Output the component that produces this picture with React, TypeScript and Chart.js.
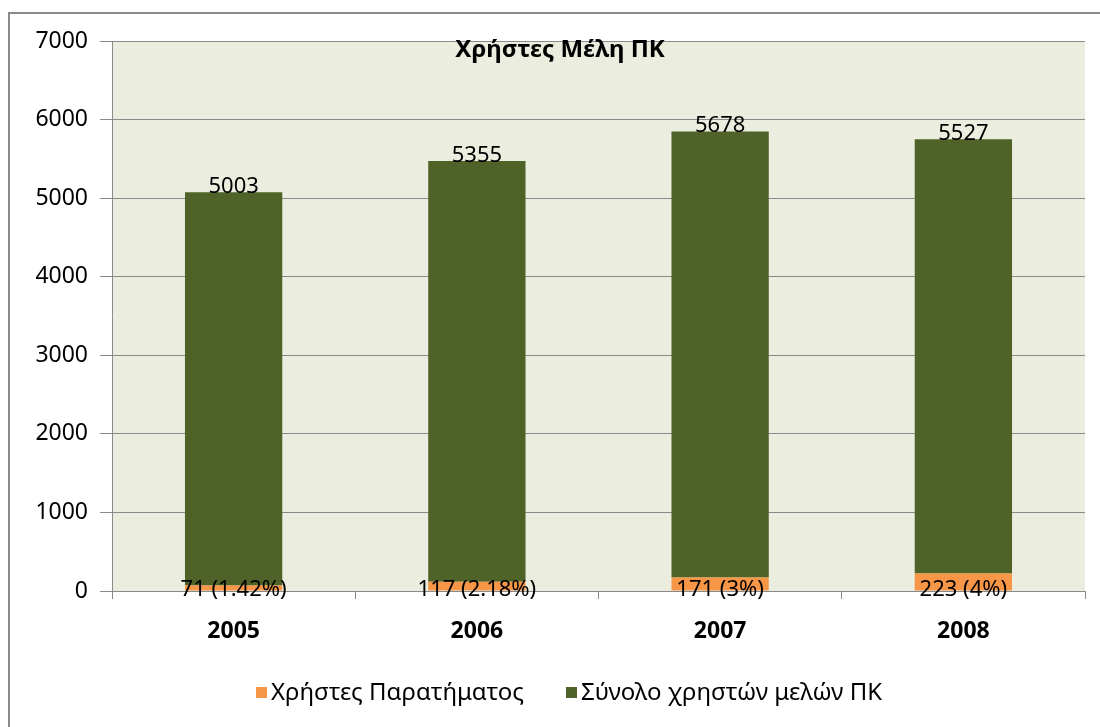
import React, { useEffect, useRef } from "react";
import { Chart, registerables } from "chart.js";

Chart.register(...registerables);

const years = ["2005", "2006", "2007", "2008"];
const paratimatos = [71, 117, 171, 223];
const paratimatosPct = ["1.42%", "2.18%", "3%", "4%"];
const synolo = [5003, 5355, 5678, 5527];
const seriesNames = ["Χρήστες Παρατήματος", "Σύνολο χρηστών μελών ΠΚ"];
const chartTitle = "Χρήστες Μέλη ΠΚ";
const colors = ["#F79646", "#4F6228"];

const FONT = "'Noto Sans', 'DejaVu Sans', sans-serif";

const decorPlugin = {
  id: "decor",
  beforeDraw(chart: any) {
    const { ctx, chartArea } = chart;
    ctx.save();
    ctx.fillStyle = "#ffffff";
    ctx.fillRect(0, 0, chart.width, chart.height);
    ctx.strokeStyle = "#8a8a8a";
    ctx.lineWidth = 2;
    ctx.strokeRect(9, 13, chart.width + 20, chart.height + 20);
    ctx.fillStyle = "#EBEEDF";
    ctx.fillRect(chartArea.left, chartArea.top, chartArea.right - chartArea.left, chartArea.bottom - chartArea.top);
    ctx.restore();
  },
  afterDraw(chart: any) {
    const { ctx } = chart;
    ctx.save();
    ctx.fillStyle = "#000";
    ctx.font = `bold 24px ${FONT}`;
    ctx.textAlign = "center";
    ctx.textBaseline = "middle";
    ctx.fillText(chartTitle, 560, 50);

    ctx.font = `22px ${FONT}`;
    ctx.textAlign = "center";
    ctx.textBaseline = "alphabetic";
    const m0 = chart.getDatasetMeta(0);
    const m1 = chart.getDatasetMeta(1);
    m0.data.forEach((bar: any, i: number) => {
      ctx.fillText(`${paratimatos[i]} (${paratimatosPct[i]})`, bar.x, chart.chartArea.bottom + 5);
    });
    m1.data.forEach((bar: any, i: number) => {
      ctx.fillText(`${synolo[i]}`, bar.x, bar.y + 1);
    });

    ctx.font = `24px ${FONT}`;
    ctx.textAlign = "left";
    ctx.textBaseline = "middle";
    const ly = 693;
    const items = [
      { x: 256, label: seriesNames[0], color: colors[0] },
      { x: 566, label: seriesNames[1], color: colors[1] },
    ];
    items.forEach((it) => {
      ctx.fillStyle = it.color;
      ctx.fillRect(it.x, ly - 6, 11, 11);
      ctx.fillStyle = "#000";
      ctx.fillText(it.label, it.x + 15, ly);
    });
    ctx.restore();
  },
};

export default function App() {
  const ref = useRef<HTMLCanvasElement>(null);
  useEffect(() => {
    if (!ref.current) return;
    const chart = new Chart(ref.current, {
      type: "bar",
      data: {
        labels: years,
        datasets: [
          {
            label: seriesNames[0],
            data: paratimatos,
            backgroundColor: colors[0],
            categoryPercentage: 1,
            barPercentage: 0.4,
          },
          {
            label: seriesNames[1],
            data: synolo,
            backgroundColor: colors[1],
            categoryPercentage: 1,
            barPercentage: 0.4,
          },
        ],
      },
      options: {
        responsive: false,
        animation: false,
        layout: { padding: { left: 0, top: 41, right: 15, bottom: 0 } },
        plugins: {
          legend: { display: false },
          title: { display: false },
          tooltip: { enabled: false },
        },
        scales: {
          x: {
            stacked: true,
            offset: true,
            grid: {
              offset: true,
              drawOnChartArea: false,
              drawTicks: true,
              tickLength: 8,
              color: "#8a8a8a",
            },
            border: { display: true, color: "#8a8a8a" },
            ticks: {
              color: "#000",
              font: { family: FONT, size: 23, weight: "bold" },
              padding: 19,
            },
            afterFit: (s: any) => {
              s.height = 136;
            },
          },
          y: {
            stacked: true,
            min: 0,
            max: 7000,
            ticks: {
              stepSize: 1000,
              color: "#000",
              font: { family: FONT, size: 23 },
              padding: 12,
              callback: (v: any) => String(v),
            },
            grid: {
              color: "#8a8a8a",
              tickLength: 12,
              drawTicks: true,
            },
            border: { display: true, color: "#8a8a8a" },
            afterFit: (s: any) => {
              s.width = 112;
            },
          },
        },
      },
      plugins: [decorPlugin],
    });
    return () => chart.destroy();
  }, []);
  return (
    <div style={{ position: "fixed", left: 0, top: 0, width: 1100, height: 727 }}>
      <canvas ref={ref} width={1100} height={727} style={{ display: "block" }} />
    </div>
  );
}
